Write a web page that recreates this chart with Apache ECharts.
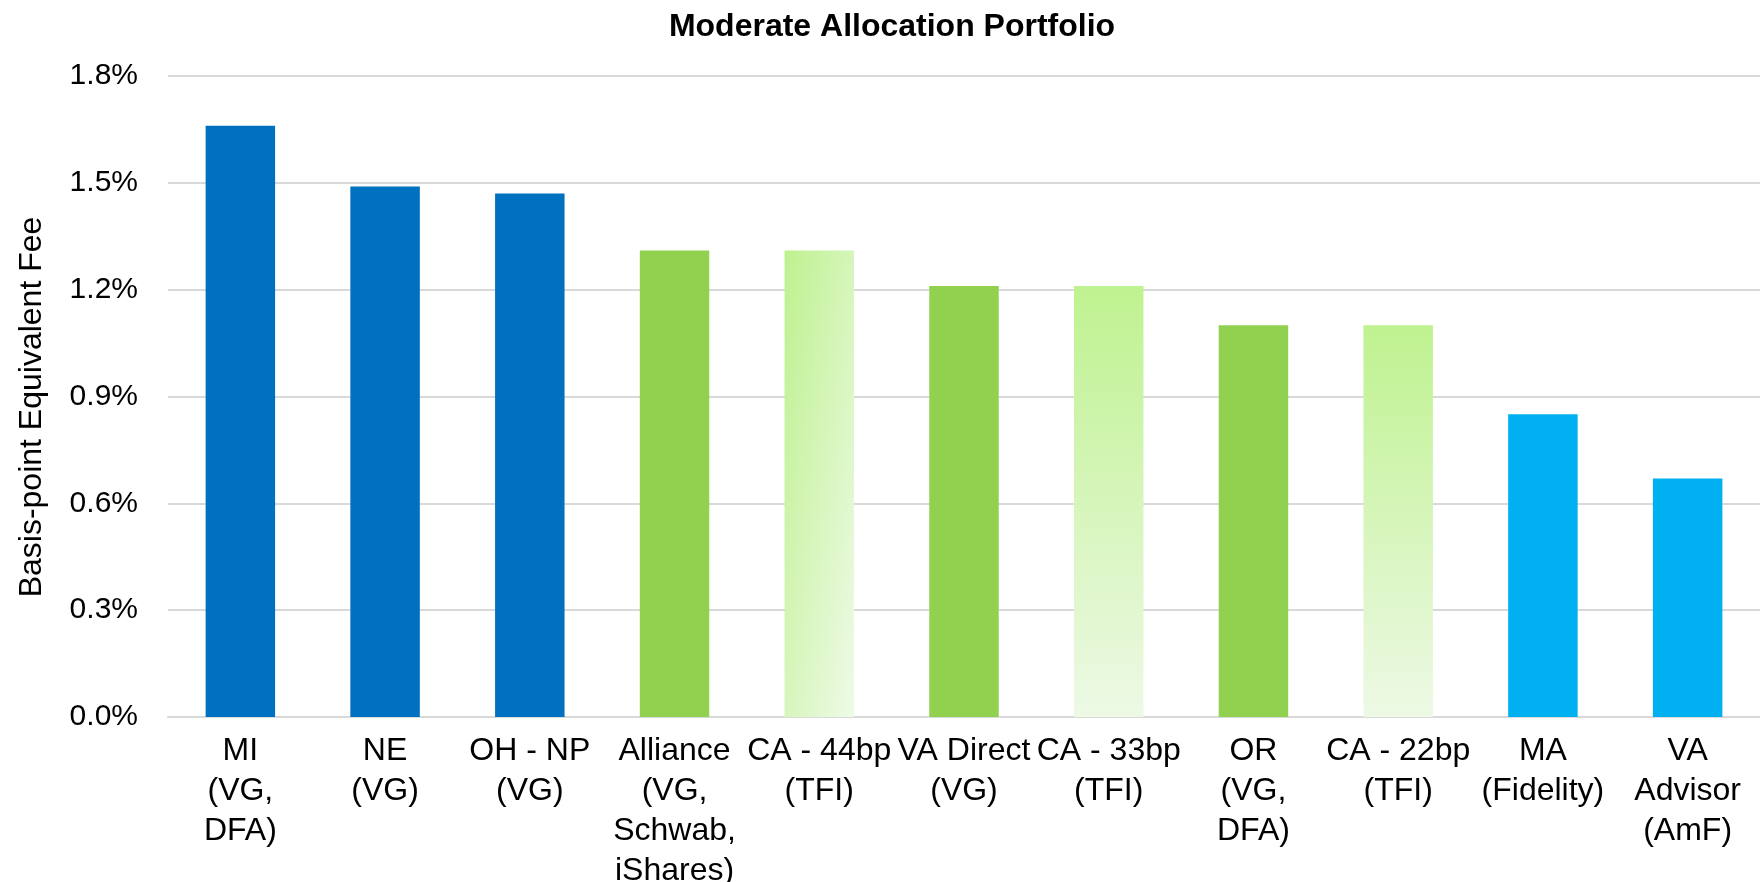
<!DOCTYPE html>
<html>
<head>
<meta charset="utf-8">
<script src="https://cdn.jsdelivr.net/npm/echarts@6/dist/echarts.min.js"></script>
<style>
  html, body { margin: 0; padding: 0; background: #fff; }
  #chart { width: 1760px; height: 882px; }
</style>
</head>
<body>
<div id="chart"></div>
<script>
// categories (x axis), line breaks as in the original
const categories = [
  "MI\n(VG,\nDFA)",
  "NE\n(VG)",
  "OH - NP\n(VG)",
  "Alliance\n(VG,\nSchwab,\niShares)",
  "CA - 44bp\n(TFI)",
  "VA Direct\n(VG)",
  "CA - 33bp\n(TFI)",
  "OR\n(VG,\nDFA)",
  "CA - 22bp\n(TFI)",
  "MA\n(Fidelity)",
  "VA\nAdvisor\n(AmF)"
];

// basis-point equivalent fee, in percent
const feeValues = [1.66, 1.49, 1.47, 1.31, 1.31, 1.21, 1.21, 1.10, 1.10, 0.85, 0.67];

// fill group for each bar
const barKinds = ["blue", "blue", "blue", "green", "diag", "green", "fade", "green", "fade", "cyan", "cyan"];

const yTicks = { min: 0, max: 1.8, step: 0.3 };

const fills = {
  blue: "#0070C0",
  green: "#92D050",
  cyan: "#00B0F0",
  // shape-scaled diagonal gradient (mostly left -> right on a tall bar)
  diag: new echarts.graphic.LinearGradient(0, 0, 1.95, 0.045, [
    { offset: 0, color: "#BEF18F" },
    { offset: 1, color: "#EDFAE5" }
  ]),
  fade: new echarts.graphic.LinearGradient(0, 0, 0, 1, [
    { offset: 0, color: "#BFF290" },
    { offset: 1, color: "#EDF9E5" }
  ])
};

const chart = echarts.init(document.getElementById("chart"));

const option = {
  animation: false,
  textStyle: { fontFamily: "Liberation Sans, Arial, sans-serif" },
  title: {
    text: "Moderate Allocation Portfolio",
    left: 887,
    textAlign: "center",
    top: 6,
    textStyle: {
      fontFamily: "Liberation Sans, Arial, sans-serif",
      fontWeight: "bold",
      fontSize: 32,
      color: "#000"
    }
  },
  grid: {
    left: 168,
    right: 0,
    top: 76,
    bottom: 165,
    containLabel: false,
    outerBoundsMode: "none"
  },
  xAxis: {
    type: "category",
    data: categories,
    axisTick: { show: false },
    axisLine: { lineStyle: { color: "#D9D9D9", width: 2 } },
    axisLabel: {
      interval: 0,
      margin: 14,
      color: "#000",
      fontSize: 32,
      lineHeight: 40,
      align: "center"
    }
  },
  yAxis: {
    type: "value",
    min: yTicks.min,
    max: yTicks.max,
    interval: yTicks.step,
    name: "Basis-point Equivalent Fee",
    nameLocation: "middle",
    nameGap: 120,
    nameRotate: 90,
    nameTextStyle: { fontSize: 32, color: "#000", padding: [0, 21, 0, 0] },
    axisLine: { show: false },
    axisTick: { show: false },
    splitLine: { lineStyle: { color: "#D9D9D9", width: 2 } },
    axisLabel: {
      margin: 30,
      color: "#000",
      fontSize: 30,
      formatter: v => v.toFixed(1) + "%"
    }
  },
  series: [
    {
      type: "bar",
      barWidth: "48%",
      data: feeValues.map((v, i) => ({
        value: v,
        itemStyle: { color: fills[barKinds[i]] }
      }))
    }
  ]
};

chart.setOption(option);
</script>
</body>
</html>
